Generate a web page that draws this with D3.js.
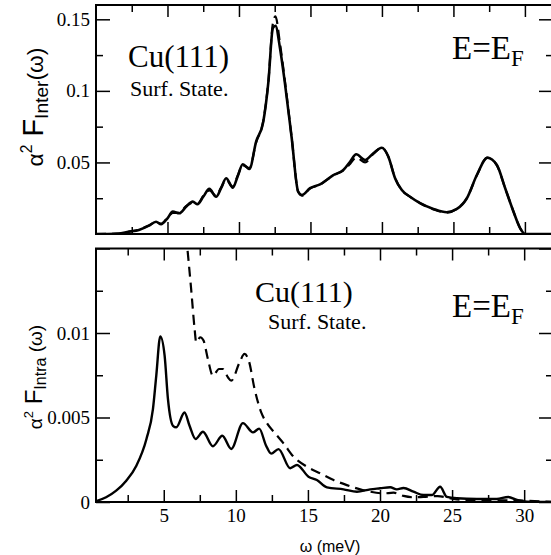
<!DOCTYPE html>
<html lang="en">
<head>
    <meta charset="UTF-8">
    <script src="https://cdn.jsdelivr.net/npm/d3@7"></script>
    <title>Cu(111) Eliashberg function</title>
    <style>
        body { margin: 0; background: white; }
        svg { display: block; }
        .tick line { stroke: black; stroke-width: 1.5px; }
    </style>
</head>
<body>
<script>
    // ---------------- data ----------------
    // top panel: inter-band, solid and dashed nearly on top of each other
    const interX = [0, 1.4, 2.3, 3.0, 3.7, 4.2, 4.55, 5.0, 5.37, 5.83, 6.3, 6.77, 7.1, 7.5, 7.93, 8.4, 8.75, 9.1, 9.57, 9.9,
        10.27, 10.73, 11.2, 11.7, 12.06, 12.37, 12.55, 12.87, 13.2, 13.69, 14.14, 14.4, 14.97, 15.67, 16.6, 17.3, 17.77,
        18.2, 18.82, 19.4, 19.99, 20.45, 20.92, 21.39, 21.97, 22.67, 23.6, 24.53, 25.24, 25.94, 26.64, 27.38, 28.04,
        28.62, 29.2, 29.67, 30.0, 32];
    const interSolid = [0, 0.0002, 0.0016, 0.0028, 0.0058, 0.0086, 0.0068, 0.011, 0.0156, 0.0145, 0.019, 0.0226, 0.0208,
        0.026, 0.0315, 0.026, 0.032, 0.039, 0.0324, 0.04, 0.0487, 0.0454, 0.0645, 0.0785, 0.1065, 0.1438, 0.1455, 0.1298,
        0.1065, 0.0669, 0.0296, 0.0273, 0.032, 0.0347, 0.0412, 0.0447, 0.0505, 0.0557, 0.0517, 0.0564, 0.0603, 0.054,
        0.039, 0.0307, 0.026, 0.0215, 0.0175, 0.0152, 0.0175, 0.025, 0.0412, 0.0533, 0.0482, 0.032, 0.0156, 0.004, 0, 0];
    const interDashed = [0, 0.0002, 0.0017, 0.003, 0.006, 0.0082, 0.0072, 0.0115, 0.0148, 0.0148, 0.0195, 0.0218, 0.0212,
        0.0265, 0.0305, 0.0268, 0.0325, 0.0378, 0.033, 0.0405, 0.048, 0.046, 0.064, 0.079, 0.107, 0.147, 0.152, 0.133,
        0.108, 0.067, 0.0296, 0.0268, 0.0318, 0.0345, 0.041, 0.0445, 0.049, 0.0535, 0.05, 0.056, 0.0603, 0.054,
        0.039, 0.0307, 0.026, 0.0215, 0.0172, 0.015, 0.0175, 0.025, 0.041, 0.0533, 0.048, 0.032, 0.0158, 0.004, 0, 0];

    // bottom panel: intra-band
    const intraX = [0.3, 1.0, 1.7, 2.4, 3.1, 3.8, 4.25, 4.48, 4.76, 5.06, 5.29, 5.64, 5.87, 6.44, 6.79, 7.21, 7.72, 8.41,
        9.06, 9.68, 10.49, 11.19, 11.62, 12.1, 12.45, 12.96, 13.77, 14.24, 15.04, 15.62, 16.32, 17.47, 18.4, 19.32, 20.01,
        20.71, 21.17, 21.63, 22.32, 23.02, 23.6, 24.17, 24.64, 25.33, 26.72, 28.1, 28.9, 29.5, 30.2, 32];
    const intraSolid = [0.00005, 0.00028, 0.00067, 0.00126, 0.00215, 0.00373, 0.0055, 0.00747, 0.0098, 0.00866, 0.0061,
        0.00451, 0.00442, 0.0053, 0.00451, 0.00373, 0.00416, 0.0033, 0.00392, 0.00314, 0.00467, 0.00412, 0.00434, 0.00333,
        0.00286, 0.00313, 0.002, 0.00219, 0.0015, 0.0013, 0.00087, 0.00075, 0.00061, 0.00075, 0.00081, 0.00087, 0.00075,
        0.00083, 0.00061, 0.00041, 0.00041, 0.0009, 0.0003, 0.00022, 0.00018, 0.00018, 0.0003, 0.00012, 0.00002, 0];
    const intraDashX = [6.55, 6.9, 7.14, 7.25, 7.53, 7.76, 8.06, 8.41, 8.83, 9.1, 9.45, 9.68, 10.26, 10.6, 10.9, 11.3,
        11.76, 12.16, 12.73, 13.31, 14.0, 14.93, 15.85, 16.78, 17.7, 18.63, 19.32, 20.24, 20.94, 21.63, 22.32, 23.0, 24.0,
        25.3, 27, 29, 32];
    const intraDashed = [0.0158, 0.0126, 0.01024, 0.00945, 0.00975, 0.00955, 0.00846, 0.00747, 0.00787, 0.00787, 0.00738,
        0.00718, 0.00826, 0.00876, 0.00836, 0.00669, 0.0053, 0.00466, 0.00406, 0.00347, 0.00268, 0.00209, 0.0017, 0.0013,
        0.001, 0.00075, 0.00061, 0.00051, 0.00055, 0.00036, 0.00028, 0.0003, 0.00035, 0.00015, 0.0001, 0.0001, 0];

    // ticks
    const xMajor = [5, 10, 15, 20, 25, 30];
    const xMinor = [2.5, 7.5, 12.5, 17.5, 22.5, 27.5];
    const topMajor = [0.05, 0.1, 0.15];
    const topMinor = [0.025, 0.075, 0.125];
    const topLabels = ["0.05", "0.1", "0.15"];
    const botMajor = [0, 0.005, 0.01, 0.015];
    const botMinor = [0.0025, 0.0075, 0.0125];
    const botLabels = ["0", "0.005", "0.01", ""];

    const SERIF = "'Liberation Serif', 'Times New Roman', Times, serif";
    const SANS = "'Liberation Sans', Arial, Helvetica, sans-serif";

    // ---------------- layout ----------------
    const W = 551, H = 555;
    const left = 96, right = 553;
    const topPanel = { y0: 5, y1: 234 };
    const botPanel = { y0: 248.5, y1: 502 };

    const svg = d3.select("body").append("svg")
        .attr("width", W)
        .attr("height", H);

    const xTop = d3.scaleLinear().domain([0, 32]).range([left, right + 0.5]);
    const xBot = d3.scaleLinear().domain([0.3, 32]).range([left, right]);
    const yTop = d3.scaleLinear().domain([0, 0.16]).range([topPanel.y1, topPanel.y0]);
    const yBot = d3.scaleLinear().domain([0, 0.015]).range([botPanel.y1, botPanel.y0]);

    function frame(x, y, panel, yMaj, yMin, yLab, xLabels) {
        const g = svg.append("g");
        const fmt = (d, i) => yLab[i];
        // left
        g.append("g").attr("transform", `translate(${left},0)`)
            .call(d3.axisLeft(y).tickValues(yMaj).tickSize(-14).tickPadding(6).tickFormat(fmt));
        g.append("g").attr("transform", `translate(${left},0)`)
            .call(d3.axisLeft(y).tickValues(yMin).tickSize(-7).tickFormat(""));
        // right
        g.append("g").attr("transform", `translate(${right},0)`)
            .call(d3.axisRight(y).tickValues(yMaj).tickSize(-14).tickFormat(""));
        g.append("g").attr("transform", `translate(${right},0)`)
            .call(d3.axisRight(y).tickValues(yMin).tickSize(-7).tickFormat(""));
        // bottom
        g.append("g").attr("transform", `translate(0,${panel.y1})`)
            .call(d3.axisBottom(x).tickValues(xMajor).tickSize(-12).tickPadding(7)
                .tickFormat(xLabels ? d3.format("d") : ""));
        g.append("g").attr("transform", `translate(0,${panel.y1})`)
            .call(d3.axisBottom(x).tickValues(xMinor).tickSize(-7).tickFormat(""));
        // top
        g.append("g").attr("transform", `translate(0,${panel.y0})`)
            .call(d3.axisTop(x).tickValues(xMajor).tickSize(-12).tickFormat(""));
        g.append("g").attr("transform", `translate(0,${panel.y0})`)
            .call(d3.axisTop(x).tickValues(xMinor).tickSize(-7).tickFormat(""));
        g.selectAll(".domain").remove();
        g.selectAll("g").attr("font-family", SERIF).attr("font-size", 19);
        g.selectAll(".tick text").attr("fill", "black");
        g.append("rect")
            .attr("x", left).attr("y", panel.y0)
            .attr("width", right - left).attr("height", panel.y1 - panel.y0)
            .attr("fill", "none").attr("stroke", "black").attr("stroke-width", 2);
        return g;
    }

    frame(xTop, yTop, topPanel, topMajor, topMinor, topLabels, false);
    frame(xBot, yBot, botPanel, botMajor, botMinor, botLabels, true);

    // clip for curves
    const defs = svg.append("defs");
    defs.append("clipPath").attr("id", "clipTop").append("rect")
        .attr("x", left).attr("y", topPanel.y0).attr("width", right - left).attr("height", topPanel.y1 - topPanel.y0);
    defs.append("clipPath").attr("id", "clipBot").append("rect")
        .attr("x", left).attr("y", botPanel.y0).attr("width", right - left).attr("height", botPanel.y1 - botPanel.y0);

    function curve(xs, ys, xs_, ys_, clip, dashed, width) {
        const pts = xs.map((d, i) => [d, ys[i]]);
        const line = d3.line()
            .x(d => xs_(d[0]))
            .y(d => ys_(d[1]))
            .curve(d3.curveMonotoneX);
        svg.append("path")
            .datum(pts)
            .attr("clip-path", `url(#${clip})`)
            .attr("d", line)
            .attr("fill", "none")
            .attr("stroke", "black")
            .attr("stroke-width", width)
            .attr("stroke-dasharray", dashed ? "10,6" : null)
            .attr("stroke-linejoin", "round");
    }

    curve(interX, interDashed, xTop, yTop, "clipTop", true, 2.2);
    curve(interX, interSolid, xTop, yTop, "clipTop", false, 2.6);
    curve(intraDashX, intraDashed, xBot, yBot, "clipBot", true, 2.2);
    curve(intraX, intraSolid, xBot, yBot, "clipBot", false, 2.4);

    // ---------------- annotations ----------------
    function note(x, y, size, txt) {
        return svg.append("text").attr("font-family", SERIF)
            .attr("x", x).attr("y", y).attr("font-size", size).text(txt);
    }
    function eef(x, y) {
        const t = svg.append("text").attr("font-family", SERIF).attr("x", x).attr("y", y).attr("font-size", 33);
        t.append("tspan").text("E=E");
        t.append("tspan").attr("font-size", 23).attr("dy", 7).text("F");
    }
    note(128, 67, 31, "Cu(111)");
    note(130, 96, 22, "Surf. State.");
    eef(452, 59);
    note(255, 302, 30, "Cu(111)");
    note(268, 329, 22, "Surf. State.");
    eef(452, 317);

    // y titles
    function ytitle(cx, cy, k, sub, gap) {
        const t = svg.append("text").attr("font-family", SANS)
            .attr("transform", `translate(${cx},${cy}) rotate(-90)`)
            .attr("text-anchor", "middle")
            .attr("font-size", 19 * k);
        t.append("tspan").text("α");
        t.append("tspan").attr("font-size", 13 * k).attr("dy", -9 * k).text("2");
        t.append("tspan").attr("font-size", 24 * k).attr("dy", 9 * k).text(" F");
        t.append("tspan").attr("font-size", 16 * k).attr("dy", 4 * k).text(sub);
        t.append("tspan").attr("dy", -4 * k).text(gap + "(ω)");
    }
    ytitle(43, 107, 1.2, "Inter", "");
    ytitle(42, 377, 1.0, "Intra", " ");

    svg.append("text").attr("font-family", SANS)
        .attr("x", 330).attr("y", 552).attr("text-anchor", "middle")
        .attr("font-size", 16).text("ω (meV)");
</script>
</body>
</html>
